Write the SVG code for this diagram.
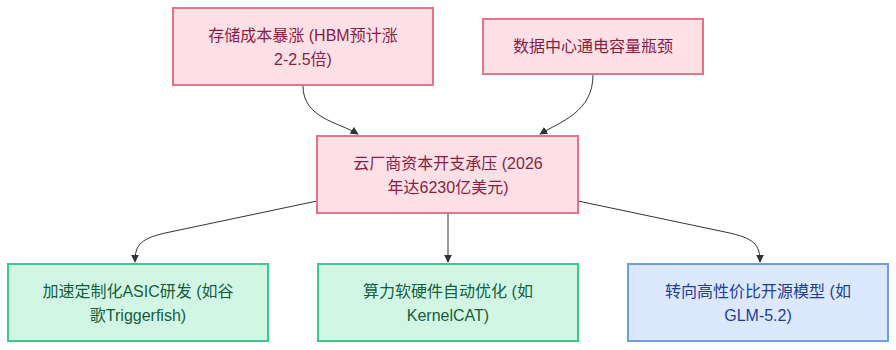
<svg xmlns="http://www.w3.org/2000/svg" width="896" height="350" viewBox="0 0 896 350">
<style>
.pink rect{fill:#ffe0e6;stroke:#e57286;stroke-width:2}
.pink text{fill:#8c1c42}
.green rect{fill:#d1f7e4;stroke:#3cc88c;stroke-width:2}
.green text{fill:#155d3c}
.blue rect{fill:#dce8fd;stroke:#6c9ee0;stroke-width:2}
.blue text{fill:#1f3d96}
text{font-family:"Liberation Sans","Noto Sans CJK SC",sans-serif;font-size:16px;text-anchor:middle}
.edges path{fill:none;stroke:#333;stroke-width:1}
</style>
<defs>
<marker id="arr" viewBox="0 0 10 10" refX="9" refY="5" markerWidth="8" markerHeight="8" orient="auto" markerUnits="userSpaceOnUse">
<path d="M0,0 L10,5 L0,10 z" fill="#333"/>
</marker>
</defs>
<rect width="896" height="350" fill="#fff"/>
<g class="edges">
<path d="M303,86 C303,118 338,122 358,134" marker-end="url(#arr)"/>
<path d="M593,75 C593,112 560,122 540,134" marker-end="url(#arr)"/>
<path d="M317,201 L170,232 C140,238 135,245 135,262" marker-end="url(#arr)"/>
<path d="M448,214 L448,262" marker-end="url(#arr)"/>
<path d="M578,201 L725,232 C755,238 760,245 760,262" marker-end="url(#arr)"/>
</g>
<g id="n1" class="pink"><rect x="173" y="8" width="260" height="77"/><text x="303" y="41">存储成本暴涨 (HBM预计涨</text><text x="303" y="65">2-2.5倍)</text></g>
<g id="n2" class="pink"><rect x="483" y="19" width="220" height="55"/><text x="593" y="52">数据中心通电容量瓶颈</text></g>
<g id="n3" class="pink"><rect x="317" y="136" width="261" height="77"/><text x="448" y="169">云厂商资本开支承压 (2026</text><text x="448" y="193">年达6230亿美元)</text></g>
<g id="n4" class="green"><rect x="8" y="264" width="260" height="77"/><text x="138" y="297">加速定制化ASIC研发 (如谷</text><text x="138" y="321">歌Triggerfish)</text></g>
<g id="n5" class="green"><rect x="318" y="264" width="260" height="77"/><text x="448" y="297">算力软硬件自动优化 (如</text><text x="448" y="321">KernelCAT)</text></g>
<g id="n6" class="blue"><rect x="628" y="264" width="260" height="77"/><text x="758" y="297">转向高性价比开源模型 (如</text><text x="758" y="321">GLM-5.2)</text></g>
</svg>
